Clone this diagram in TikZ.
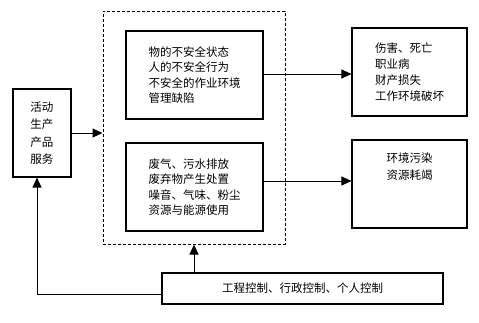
\documentclass[tikz,border=0pt]{standalone}
\usepackage{fontspec}
\newfontfamily\cjk{Noto Sans CJK SC}
\usetikzlibrary{arrows.meta}
\begin{document}
\begin{tikzpicture}[x=1pt,y=-1pt,
  box/.style={draw,line width=1.1pt,rectangle,inner sep=0pt,font=\cjk\fontsize{11.5}{15.5}\selectfont},
  arr/.style={line width=1pt,-{Triangle[length=10pt,width=9pt]}},
  ln/.style={line width=1pt}]
\useasboundingbox (0,0) rectangle (479,322);
\node[draw,dash pattern=on 3pt off 2pt,line width=1pt,minimum width=182pt,minimum height=233pt] (D) at (194,127.5) {};
\node[box,minimum width=58pt,minimum height=88pt,align=center,font=\cjk\fontsize{11.5}{17.5}\selectfont] (L) at (42,133) {活动\\生产\\产品\\服务};
\node[box,minimum width=137pt,minimum height=88pt,align=left] (A) at (194.5,75) {物的不安全状态\\人的不安全行为\\不安全的作业环境\\管理缺陷\hphantom{作业环境}};
\node[box,minimum width=137pt,minimum height=88pt,align=left] (B) at (194.5,187) {废气、污水排放\\废弃物产生处置\\噪音、气味、粉尘\\资源与能源使用};
\node[box,minimum width=115pt,minimum height=88pt,align=left,font=\cjk\fontsize{11.5}{16}\selectfont] (R1) at (409.5,72) {伤害、死亡\\职业病\\财产损失\\工作环境破坏};
\node[box,minimum width=115pt,minimum height=88pt,align=center,font=\cjk\fontsize{11.5}{17}\selectfont] (R2) at (409.5,184) {环境污染\\资源耗竭\\[18pt]};
\node[box,minimum width=281pt,minimum height=31pt] (C) at (302.5,288.5) {工程控制、行政控制、个人控制};
\draw[arr] (L.east) -- (L.east -| D.west);
\draw[arr] ([yshift=1pt]A.east) -- ([yshift=1pt]A.east -| R1.west);
\draw[arr] ([yshift=6pt]B.east) -- ([yshift=6pt]B.east -| R2.west);
\draw[arr] (D.south |- C.north) -- (D.south);
\coordinate (Lb) at ([xshift=-5pt]L.south);
\draw[arr] ([yshift=-5.5pt]C.west) -| (Lb);
\end{tikzpicture}
\end{document}
